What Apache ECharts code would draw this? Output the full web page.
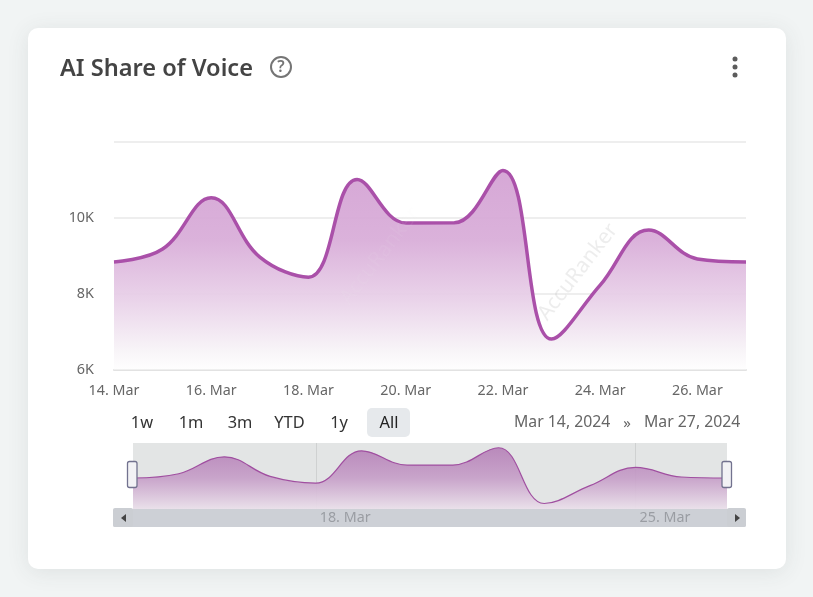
<!DOCTYPE html>
<html><head><meta charset="utf-8">
<script src="https://cdn.jsdelivr.net/npm/echarts@6/dist/echarts.min.js"></script>
<style>html,body{margin:0;padding:0;background:#f1f4f4}#c{width:813px;height:597px}</style>
</head><body><div id="c"></div>
<script>
const categories = ['14. Mar','15. Mar','16. Mar','17. Mar','18. Mar','19. Mar','20. Mar','21. Mar','22. Mar','23. Mar','24. Mar','25. Mar','26. Mar','27. Mar'];
const shareOfVoice = [8830,9170,10520,8960,8430,11000,9855,9860,11240,6800,8220,9670,8910,8830];
const yTickLabels = {6000:'6K',8000:'8K',10000:'10K',12000:''};
const navigatorLabels = ['18. Mar','25. Mar'];
const rangeButtons = [['1w',142],['1m',191],['3m',240],['YTD',289.5],['1y',339],['All',389]];
const dateFrom = 'Mar 14, 2024', dateTo = 'Mar 27, 2024';
const FONT = '"Noto Sans"';
const grad = (stops)=>new echarts.graphic.LinearGradient(0,0,0,1,stops.map(([offset,color])=>({offset,color})));
const t = (x,y,text,fs,fill,extra)=>({type:'text',x,y,z:1,style:Object.assign({text,fontFamily:FONT,fontSize:fs,fill,align:'center',verticalAlign:'middle'},extra||{})});
const graphic = [
 {type:'rect',z:-10,shape:{x:28,y:28,width:758,height:541,r:10},style:{fill:'#fff',shadowBlur:22,shadowColor:'rgba(60,70,70,0.10)',shadowOffsetY:3}},
 t(60,69.5,'AI Share of Voice',23.6,'#444444',{align:'left',fontWeight:600}),
 {type:'circle',z:1,shape:{cx:281,cy:67,r:10},style:{fill:'none',stroke:'#757575',lineWidth:2}},
 t(281,67.5,'?',16,'#757575',{fontWeight:600}),
 {type:'circle',z:1,shape:{cx:735,cy:59,r:2.5},style:{fill:'#5c5c5c'}},
 {type:'circle',z:1,shape:{cx:735,cy:67,r:2.5},style:{fill:'#5c5c5c'}},
 {type:'circle',z:1,shape:{cx:735,cy:75,r:2.5},style:{fill:'#5c5c5c'}},
 {type:'rect',z:-1,shape:{x:367,y:408,width:43,height:29,r:5},style:{fill:'#e6e9ec'}},
 ...rangeButtons.map(([l,x])=>t(x,423.5,l,16.4,'#333',l==='All'?{fill:'#222'}:{})),
 t(514,422.5,dateFrom,15.8,'#666',{align:'left'}),
 t(627,423.5,'»',15,'#666'),
 t(644,422.5,dateTo,15.8,'#666',{align:'left'}),
 {type:'text',x:578,y:272,rotation:Math.PI*0.29,z:5,style:{text:'AccuRanker',fontFamily:FONT,fontSize:21,fill:'rgba(185,185,185,0.26)',align:'center',verticalAlign:'middle'}},
 {type:'text',x:380,y:256,rotation:Math.PI*0.29,z:5,style:{text:'AccuRanker',fontFamily:FONT,fontSize:21,fill:'rgba(235,235,235,0.07)',align:'center',verticalAlign:'middle'}},
 {type:'rect',z:-1,shape:{x:113,y:509,width:633,height:18,r:2},style:{fill:'#cdd0d6'}},
 {type:'rect',z:-1,shape:{x:113,y:508,width:20,height:19,r:2},style:{fill:'#cbced3'}},
 {type:'rect',z:-1,shape:{x:727,y:508,width:19,height:19,r:2},style:{fill:'#cbced3'}},
 {type:'polygon',z:1,shape:{points:[[126,514],[126,522],[121,518]]},style:{fill:'#444'}},
 {type:'polygon',z:1,shape:{points:[[735,514],[735,522],[740,518]]},style:{fill:'#444'}},
 {type:'rect',z:6,shape:{x:127.5,y:461.5,width:9.5,height:26,r:2},style:{fill:'#f2f2f5',stroke:'#72728f',lineWidth:1.3}},
 {type:'rect',z:6,shape:{x:722,y:461.5,width:9.5,height:26,r:2},style:{fill:'#f2f2f5',stroke:'#72728f',lineWidth:1.3}}
];
const option = {
 animation:false,
 backgroundColor:'#f1f4f4',
 textStyle:{fontFamily:FONT},
 graphic,
 grid:[
  {left:114,width:632,top:141.5,height:228},
  {left:133,width:594,top:443,height:66,show:true,backgroundColor:'#e3e5e5',borderWidth:0}
 ],
 xAxis:[
  {type:'category',gridIndex:0,data:categories,boundaryGap:false,
   axisLine:{lineStyle:{color:'#e2e2e2',width:2}},axisTick:{show:false},
   axisLabel:{interval:i=>i%2===0,color:'#666',fontSize:14.3,margin:14.5,hideOverlap:false},splitLine:{show:false}},
  {type:'category',gridIndex:1,data:categories,boundaryGap:false,
   axisLine:{show:false},axisTick:{show:false},
   axisLabel:{interval:i=>navigatorLabels.includes(categories[i]),color:'#9a9da3',fontSize:14.3,align:'left',margin:2,padding:[0,0,0,4]},
   splitLine:{show:true,interval:i=>navigatorLabels.includes(categories[i]),lineStyle:{color:'#cfd1d1',width:1}}}
 ],
 yAxis:[
  {type:'value',gridIndex:0,min:6000,max:12000,interval:2000,
   axisLine:{show:false},axisTick:{show:false},
   axisLabel:{color:'#666',fontSize:14.4,margin:20,formatter:v=>yTickLabels[v],padding:[0,0,3,0]},
   splitLine:{lineStyle:{color:'#e8e8e8',width:1.5}}},
  {type:'value',gridIndex:1,min:6360,max:11620,axisLine:{show:false},axisTick:{show:false},axisLabel:{show:false},splitLine:{show:false}}
 ],
 series:[
  {type:'line',xAxisIndex:0,yAxisIndex:0,data:shareOfVoice,smooth:0.4,showSymbol:false,
   lineStyle:{color:'#aa50a9',width:3.5},
   areaStyle:{opacity:1,color:grad([[0,'rgba(211,161,211,0.93)'],[0.35,'rgba(216,172,216,0.93)'],[0.65,'rgba(232,208,232,0.93)'],[0.9,'rgba(247,243,247,0.93)'],[1,'rgba(254,254,254,0.9)']])}},
  {type:'line',xAxisIndex:1,yAxisIndex:1,data:shareOfVoice,smooth:0.4,showSymbol:false,
   lineStyle:{color:'#a04fa0',width:1.2},
   areaStyle:{opacity:1,color:grad([[0,'rgba(176,118,178,0.82)'],[0.5,'rgba(198,158,200,0.9)'],[1,'rgba(234,224,234,0.95)']])}}
 ]
};
echarts.init(document.getElementById('c'),null,{renderer:'canvas'}).setOption(option);
</script></body></html>
